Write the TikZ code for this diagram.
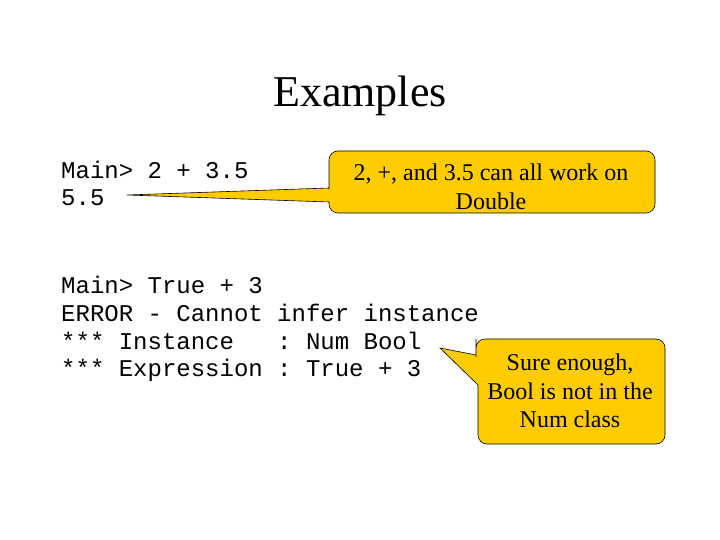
\documentclass[tikz,border=0pt]{standalone}
\usepackage{fontspec}
\setmainfont{Liberation Serif}
\setmonofont{Liberation Mono}
\definecolor{callout}{RGB}{255,204,0}
\begin{document}
\begin{tikzpicture}[x=1pt,y=-1pt,
  code/.style={anchor=west,inner sep=0pt,font=\ttfamily\fontsize{24}{28}\selectfont},
  ctext/.style={align=center,font=\fontsize{24}{28.5}\selectfont},
  bubble/.style={fill=callout,draw=black,line width=0.6pt,rounded corners=9pt}]
\useasboundingbox (0,0) rectangle (720,540);
\node[font=\fontsize{44}{50}\selectfont] (title) at (360,96) {Examples};
\node[code] (l1) at (61,170) {Main> 2 + 3.5};
\node[code] (l2) at (61,198) {5.5};
\node[code] (l3) at (61,285) {Main> True + 3};
\node[code] (l4) at (61,313) {ERROR - Cannot infer instance};
\node[code] (l5) at (61,341) {*** Instance~~~: Num Bool};
\node[code] (l6) at (61,370) {*** Expression : True + 3};
\coordinate (t1) at (127,195);
\coordinate (t2) at (440,348);
\draw[bubble] (329,180) [sharp corners]-- (329,188) -- (t1) -- (329,202) [rounded corners=9pt]-- (329,213) -- (655,213) -- (655,151) -- (329,151) -- cycle;
\draw[bubble] (476,348) [sharp corners]-- (476,355) -- (t2) -- (478,385) [rounded corners=9pt]-- (478,444) -- (665,444) -- (665,339) -- (476,339) -- cycle;
\node[ctext] (c1) at (491,187) {2, +, and 3.5 can all work on\\Double};
\node[ctext] (c2) at (570,391) {Sure enough,\\Bool is not in the\\Num class};
\end{tikzpicture}
\end{document}
